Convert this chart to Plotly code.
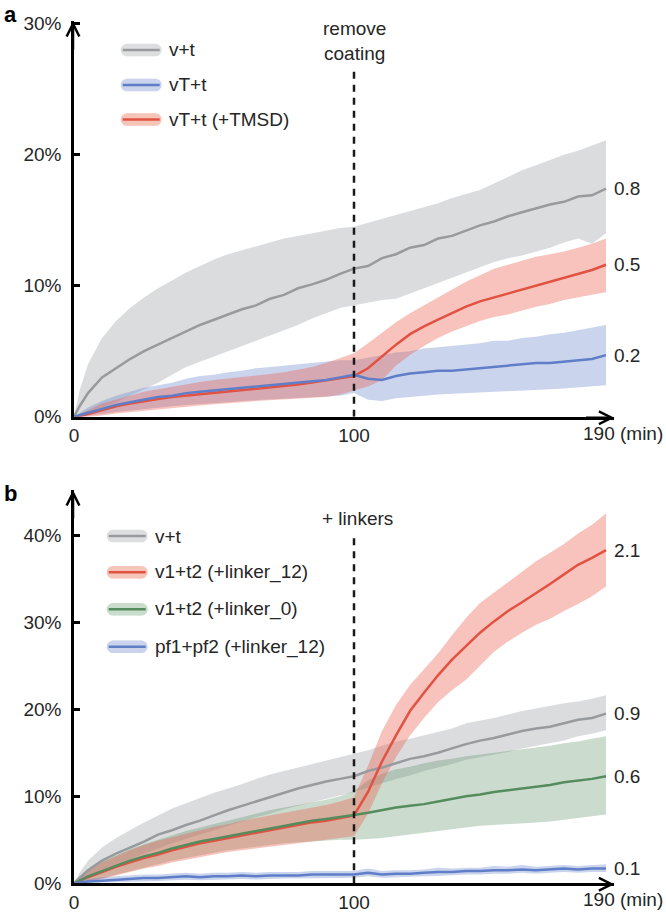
import plotly.graph_objects as go

W, H = 666, 916

# ---------------- data ----------------
T = [0, 2, 5, 10, 15, 20, 25, 30, 35, 40, 45, 50, 55, 60, 65, 70, 75, 80, 85, 90,
     95, 100, 105, 110, 115, 120, 125, 130, 135, 140, 145, 150, 155, 160, 165, 170,
     175, 180, 185, 190]

# panel a
a_gray_mean = [0, 0.8, 1.8, 3.0, 3.7, 4.4, 5.0, 5.5, 6.0, 6.5, 7.0, 7.4, 7.8, 8.2, 8.5, 9.0, 9.3, 9.8, 10.1, 10.45,
               10.9, 11.3, 11.5, 12.1, 12.4, 12.9, 13.1, 13.6, 13.8, 14.2, 14.6, 14.9, 15.3, 15.6, 15.9, 16.2, 16.4, 16.8, 16.9, 17.4]
a_gray_hi = [0, 2.0, 4.0, 6.0, 7.3, 8.3, 9.1, 9.8, 10.4, 11.0, 11.5, 12.0, 12.4, 12.7, 13.0, 13.3, 13.6, 13.8, 14.0, 14.2,
             14.4, 14.5, 14.8, 15.1, 15.4, 15.7, 16.0, 16.3, 16.7, 17.0, 17.3, 17.8, 18.3, 18.8, 19.2, 19.6, 20.0, 20.3, 20.7, 21.1]
a_gray_lo = [0, 0.1, 0.3, 0.7, 1.1, 1.6, 2.1, 2.6, 3.2, 3.8, 4.2, 4.6, 5.0, 5.4, 5.8, 6.2, 6.6, 7.0, 7.5, 7.9,
             8.3, 8.5, 8.7, 8.9, 9.0, 9.4, 9.8, 10.2, 10.6, 11.0, 11.4, 11.8, 12.1, 12.3, 12.6, 12.9, 13.3, 13.6, 13.2, 14.0]

a_blue_mean = [0, 0.1, 0.3, 0.6, 0.9, 1.1, 1.3, 1.5, 1.6, 1.8, 1.9, 2.0, 2.1, 2.2, 2.3, 2.4, 2.5, 2.6, 2.7, 2.8,
               3.0, 3.2, 2.9, 2.8, 3.1, 3.3, 3.4, 3.5, 3.5, 3.6, 3.7, 3.8, 3.9, 4.0, 4.1, 4.1, 4.2, 4.3, 4.4, 4.7]
a_blue_hi = [0, 0.3, 0.7, 1.2, 1.6, 1.9, 2.2, 2.4, 2.6, 2.9, 3.1, 3.2, 3.4, 3.5, 3.7, 3.8, 3.9, 4.0, 4.1, 4.2,
             4.3, 4.3, 4.5, 4.7, 4.9, 5.0, 5.2, 5.3, 5.4, 5.5, 5.6, 5.8, 5.8, 6.0, 6.1, 6.3, 6.4, 6.6, 6.8, 7.0]
a_blue_lo = [0, 0, 0.05, 0.2, 0.35, 0.5, 0.6, 0.7, 0.8, 0.9, 1.0, 1.05, 1.1, 1.2, 1.3, 1.35, 1.4, 1.45, 1.5, 1.55,
             1.6, 1.8, 1.3, 1.2, 1.4, 1.5, 1.6, 1.7, 1.75, 1.8, 1.9, 1.9, 2.0, 2.0, 2.05, 2.1, 2.15, 2.2, 2.3, 2.4]

a_red_mean = [0, 0.05, 0.2, 0.5, 0.8, 1.0, 1.2, 1.35, 1.5, 1.6, 1.75, 1.85, 1.95, 2.05, 2.15, 2.25, 2.35, 2.45, 2.6, 2.75,
              2.9, 3.1, 3.7, 4.6, 5.5, 6.3, 6.9, 7.4, 7.9, 8.4, 8.8, 9.1, 9.4, 9.7, 10.0, 10.3, 10.6, 10.9, 11.2, 11.6]
a_red_hi = [0, 0.2, 0.5, 1.0, 1.3, 1.6, 1.9, 2.1, 2.3, 2.5, 2.65, 2.8, 2.9, 3.0, 3.1, 3.25, 3.4, 3.6, 3.8, 4.1,
            4.5, 4.85, 5.6, 6.4, 7.2, 7.9, 8.5, 9.1, 9.7, 10.3, 10.8, 11.3, 11.6, 11.9, 12.2, 12.4, 12.6, 12.9, 13.2, 13.6]
a_red_lo = [0, 0, 0, 0.1, 0.25, 0.4, 0.5, 0.6, 0.7, 0.75, 0.85, 0.95, 1.05, 1.1, 1.2, 1.3, 1.35, 1.4, 1.45, 1.5,
            1.7, 2.0, 2.3, 2.8, 3.9, 4.7, 5.4, 6.0, 6.5, 6.9, 7.3, 7.6, 7.8, 8.1, 8.4, 8.6, 8.9, 9.1, 9.3, 9.5]

# panel b
b_gray_mean = [0, 0.6, 1.5, 2.6, 3.4, 4.1, 4.8, 5.6, 6.1, 6.7, 7.2, 7.8, 8.4, 8.9, 9.4, 9.9, 10.4, 10.9, 11.3, 11.7,
               12.0, 12.3, 12.9, 13.3, 13.8, 14.3, 14.6, 15.0, 15.5, 16.0, 16.4, 16.7, 17.1, 17.5, 17.8, 18.0, 18.4, 18.8, 19.0, 19.5]
b_gray_hi = [0, 1.2, 2.6, 4.1, 5.2, 6.1, 7.0, 7.8, 8.6, 9.2, 9.8, 10.4, 10.9, 11.4, 12.0, 12.5, 12.9, 13.3, 13.7, 14.1,
             14.5, 14.9, 15.3, 15.8, 16.3, 16.6, 17.0, 17.4, 17.8, 18.4, 18.7, 19.0, 19.4, 19.8, 20.1, 20.4, 20.7, 20.9, 21.2, 21.6]
b_gray_lo = [0, 0.2, 0.6, 1.4, 2.1, 2.8, 3.4, 4.0, 4.6, 5.1, 5.6, 6.1, 6.6, 7.1, 7.6, 8.0, 8.5, 8.9, 9.3, 9.7,
             10.1, 10.5, 11.0, 11.5, 12.0, 12.4, 12.9, 13.3, 13.7, 14.2, 14.5, 14.8, 15.1, 15.5, 15.8, 16.1, 16.4, 16.9, 17.2, 17.6]

b_red_mean = [0, 0.3, 0.7, 1.3, 1.9, 2.4, 2.9, 3.3, 3.8, 4.2, 4.6, 4.9, 5.2, 5.5, 5.8, 6.1, 6.4, 6.7, 7.0, 7.2,
              7.5, 7.8, 10.5, 14.0, 17.0, 19.8, 21.9, 23.9, 25.7, 27.3, 28.8, 30.1, 31.3, 32.3, 33.3, 34.4, 35.5, 36.6, 37.4, 38.3]
b_red_hi = [0, 0.7, 1.5, 2.4, 3.1, 3.8, 4.4, 4.9, 5.3, 5.7, 6.1, 6.5, 6.8, 7.2, 7.5, 7.8, 8.1, 8.4, 8.7, 9.0,
            9.4, 9.9, 13.5, 17.5, 20.5, 22.8, 24.6, 26.4, 28.5, 30.5, 32.2, 33.4, 34.6, 35.8, 37.0, 38.0, 39.0, 40.2, 41.2, 42.5]
b_red_lo = [0, 0.05, 0.2, 0.5, 0.9, 1.3, 1.7, 2.0, 2.4, 2.7, 3.0, 3.3, 3.6, 3.8, 4.0, 4.2, 4.4, 4.6, 4.8, 5.0,
            5.2, 5.4, 8.0, 11.5, 14.5, 17.0, 19.0, 20.8, 22.2, 23.4, 25.0, 26.6, 27.8, 28.8, 29.7, 30.4, 31.3, 32.1, 33.0, 34.1]

b_green_mean = [0, 0.3, 0.8, 1.4, 2.0, 2.6, 3.1, 3.5, 4.0, 4.4, 4.8, 5.1, 5.4, 5.7, 6.0, 6.3, 6.6, 6.9, 7.2, 7.4,
                7.6, 7.85, 8.1, 8.4, 8.7, 8.9, 9.1, 9.4, 9.7, 10.0, 10.2, 10.5, 10.7, 10.9, 11.1, 11.3, 11.6, 11.8, 12.0, 12.3]
b_green_hi = [0, 0.8, 1.6, 2.5, 3.2, 3.9, 4.5, 5.0, 5.5, 6.0, 6.4, 6.8, 7.2, 7.6, 8.0, 8.4, 8.7, 9.0, 9.3, 9.6,
              10.0, 10.6, 11.8, 12.6, 13.1, 13.4, 13.8, 14.1, 14.3, 14.6, 14.8, 15.0, 15.2, 15.4, 15.6, 15.8, 16.1, 16.3, 16.6, 16.9]
b_green_lo = [0, 0.05, 0.2, 0.6, 1.0, 1.4, 1.8, 2.2, 2.6, 2.9, 3.2, 3.5, 3.8, 4.0, 4.2, 4.4, 4.6, 4.7, 4.8, 4.9,
              5.0, 5.0, 5.1, 5.2, 5.4, 5.6, 5.8, 6.0, 6.2, 6.4, 6.6, 6.7, 6.8, 6.9, 7.0, 7.1, 7.3, 7.5, 7.7, 7.9]

b_blue_mean = [0, 0.1, 0.2, 0.3, 0.4, 0.5, 0.6, 0.6, 0.7, 0.8, 0.7, 0.8, 0.8, 0.9, 0.8, 0.9, 0.9, 0.9, 1.0, 1.0,
               1.0, 1.0, 1.2, 1.0, 1.1, 1.1, 1.2, 1.3, 1.3, 1.4, 1.4, 1.5, 1.5, 1.6, 1.5, 1.6, 1.7, 1.6, 1.7, 1.7]
b_blue_hi = [0, 0.3, 0.5, 0.7, 0.8, 0.9, 1.0, 1.0, 1.1, 1.2, 1.1, 1.2, 1.2, 1.3, 1.2, 1.3, 1.3, 1.3, 1.4, 1.4,
             1.4, 1.4, 1.7, 1.4, 1.5, 1.5, 1.6, 1.8, 1.7, 1.8, 1.8, 2.0, 1.9, 2.1, 1.9, 2.0, 2.1, 2.0, 2.1, 2.2]
b_blue_lo = [0, 0, 0, 0.05, 0.1, 0.15, 0.2, 0.25, 0.3, 0.4, 0.35, 0.4, 0.45, 0.5, 0.45, 0.5, 0.55, 0.55, 0.6, 0.6,
             0.6, 0.65, 0.8, 0.65, 0.7, 0.75, 0.8, 0.85, 0.9, 1.0, 1.0, 1.1, 1.1, 1.2, 1.1, 1.2, 1.3, 1.2, 1.3, 1.3]

a_names = ["v+t", "vT+t", "vT+t (+TMSD)"]
a_end_labels = ["0.8", "0.2", "0.5"]
b_names = ["v+t", "v1+t2 (+linker_12)", "v1+t2 (+linker_0)", "pf1+pf2 (+linker_12)"]
b_end_labels = ["0.9", "2.1", "0.6", "0.1"]

a_yticks = [0, 10, 20, 30]
a_yticktext = ["0%", "10%", "20%", "30%"]
b_yticks = [0, 10, 20, 30, 40]
b_yticktext = ["0%", "10%", "20%", "30%", "40%"]
x_ticks = [0, 100]
x_ticktext = ["0", "100"]
x_last_label = "190 (min)"
a_event = "remove<br>coating"
b_event = "+ linkers"
event_time = 100

# ---------------- style ----------------
FONT = "Liberation Sans, Arial, Helvetica, sans-serif"
TXT = "#262626"
COL = {
    "gray": dict(line="rgb(152,155,158)", band="rgba(150,153,158,0.34)", sw="rgb(221,222,224)"),
    "blue": dict(line="rgb(96,126,200)", band="rgba(90,120,200,0.32)", sw="rgb(203,211,237)"),
    "red": dict(line="rgb(226,82,66)", band="rgba(234,98,78,0.38)", sw="rgb(246,197,185)"),
    "green": dict(line="rgb(84,140,94)", band="rgba(84,140,94,0.30)", sw="rgb(202,220,204)"),
}

XL, XR = 74.0, 614.4
XMAX = 193.0
A_TOP, A_BOT = 21.0, 416.7
B_TOP, B_BOT = 490.0, 883.3
A_YMAX, B_YMAX = 30.2, 45.2


def px(x):
    return x / W


def py(y):
    return 1 - y / H


fig = go.Figure()


def add_band(xa, ya, lo, hi, color):
    fig.add_trace(go.Scatter(x=T + T[::-1], y=hi + lo[::-1], fill="toself", mode="lines",
                             line=dict(width=0), fillcolor=COL[color]["band"],
                             hoverinfo="skip", showlegend=False, xaxis=xa, yaxis=ya))


def add_line(xa, ya, mean, color):
    fig.add_trace(go.Scatter(x=T, y=mean, mode="lines", line=dict(width=2.5, color=COL[color]["line"]),
                             showlegend=False, xaxis=xa, yaxis=ya))


# panel a
add_band("x", "y", a_gray_lo, a_gray_hi, "gray")
add_band("x", "y", a_blue_lo, a_blue_hi, "blue")
add_band("x", "y", a_red_lo, a_red_hi, "red")
add_line("x", "y", a_gray_mean, "gray")
add_line("x", "y", a_red_mean, "red")
add_line("x", "y", a_blue_mean, "blue")

# panel b
add_band("x2", "y2", b_gray_lo, b_gray_hi, "gray")
add_band("x2", "y2", b_green_lo, b_green_hi, "green")
add_band("x2", "y2", b_red_lo, b_red_hi, "red")
add_band("x2", "y2", b_blue_lo, b_blue_hi, "blue")
add_line("x2", "y2", b_gray_mean, "gray")
add_line("x2", "y2", b_red_mean, "red")
add_line("x2", "y2", b_green_mean, "green")
add_line("x2", "y2", b_blue_mean, "blue")

tickfont = dict(family=FONT, size=19, color=TXT)
xcommon = dict(range=[0, XMAX], domain=[px(XL), px(XR)], showline=True, linecolor="black", linewidth=2.5,
               ticks="", tickvals=x_ticks, ticktext=x_ticktext, showgrid=False, zeroline=False,
               tickfont=tickfont, fixedrange=True, automargin=False)
ycommon = dict(showline=True, linecolor="black", linewidth=2.5, ticks="inside", ticklen=6, tickwidth=2.5,
               tickcolor="black", showgrid=False, zeroline=False, tickfont=tickfont, ticklabelstandoff=6,
               automargin=False, fixedrange=True)

annotations = []
shapes = []

# axis arrowheads
for xr, yr, ymax in (("x", "y", A_YMAX), ("x2", "y2", B_YMAX)):
    annotations.append(dict(x=XMAX, y=0, xref=xr, yref=yr, ax=-30, ay=0, showarrow=True, arrowhead=5,
                            arrowwidth=2.5, arrowsize=1.0, arrowcolor="black", text="", yshift=-1))
    annotations.append(dict(x=0, y=ymax, xref=xr, yref=yr, ax=0, ay=30, showarrow=True, arrowhead=5,
                            arrowwidth=2.5, arrowsize=1.0, arrowcolor="black", text="", xshift=-1))
    annotations.append(dict(x=190, y=0, xref=xr, yref=yr, text=x_last_label, showarrow=False,
                            xanchor="left", yanchor="top", xshift=-25, yshift=-4,
                            font=dict(family=FONT, size=19, color=TXT)))

# dashed event lines
shapes.append(dict(type="line", xref="x", yref="y", x0=event_time, x1=event_time, y0=0, y1=26.5,
                   line=dict(color="#1a1a1a", width=2.5, dash="7px,6px")))
shapes.append(dict(type="line", xref="x2", yref="y2", x0=event_time, x1=event_time, y0=0, y1=39.7,
                   line=dict(color="#1a1a1a", width=2.5, dash="7px,6px")))
annotations.append(dict(x=event_time, y=py(41), xref="x", yref="paper", text=a_event, showarrow=False,
                        xanchor="center", yanchor="middle", font=dict(family=FONT, size=19, color=TXT)))
annotations.append(dict(x=event_time, y=py(518), xref="x2", yref="paper", text=b_event, showarrow=False,
                        xanchor="center", yanchor="middle", xshift=3, font=dict(family=FONT, size=19, color=TXT)))

# end labels
for xr, yr, means, labels in (("x", "y", [a_gray_mean, a_blue_mean, a_red_mean], a_end_labels),
                              ("x2", "y2", [b_gray_mean, b_red_mean, b_green_mean, b_blue_mean], b_end_labels)):
    for m, lab in zip(means, labels):
        annotations.append(dict(x=T[-1], y=m[-1], xref=xr, yref=yr, text=lab, showarrow=False,
                                xanchor="left", yanchor="middle", xshift=6,
                                font=dict(family=FONT, size=19, color=TXT)))

# panel letters
annotations.append(dict(x=px(2), y=py(15), xref="paper", yref="paper", text="<b>a</b>", showarrow=False,
                        xanchor="left", yanchor="middle", font=dict(family=FONT, size=22, color="black")))
annotations.append(dict(x=px(2), y=py(493), xref="paper", yref="paper", text="<b>b</b>", showarrow=False,
                        xanchor="left", yanchor="middle", font=dict(family=FONT, size=22, color="black")))


# legends (drawn swatches)
def legend(items, x_left, x_right, text_x, ys):
    r = 6.3
    for (name, color), yc in zip(items, ys):
        shapes.append(dict(type="rect", xref="paper", yref="paper", x0=px(x_left + r), x1=px(x_right - r),
                           y0=py(yc + r), y1=py(yc - r), line=dict(width=0), fillcolor=COL[color]["sw"]))
        for cx in (x_left + r, x_right - r):
            shapes.append(dict(type="circle", xref="paper", yref="paper", x0=px(cx - r), x1=px(cx + r),
                               y0=py(yc + r), y1=py(yc - r), line=dict(width=0), fillcolor=COL[color]["sw"]))
        shapes.append(dict(type="line", xref="paper", yref="paper", x0=px(x_left + 2), x1=px(x_right - 2),
                           y0=py(yc), y1=py(yc), line=dict(width=2.5, color=COL[color]["line"])))
        annotations.append(dict(x=px(text_x), y=py(yc), xref="paper", yref="paper", text=name, showarrow=False,
                                xanchor="left", yanchor="middle", font=dict(family=FONT, size=19, color=TXT)))


legend(list(zip(a_names, ["gray", "blue", "red"])), 120.7, 161.7, 167, [50, 85, 119.5])
legend(list(zip(b_names, ["gray", "red", "green", "blue"])), 106.7, 147.7, 153, [536, 572.3, 609.3, 646.7])

fig.update_layout(
    width=W, height=H, margin=dict(l=0, r=0, t=0, b=0, pad=0, autoexpand=False),
    paper_bgcolor="white", plot_bgcolor="white", showlegend=False,
    font=dict(family=FONT, size=19, color=TXT),
    xaxis=dict(xcommon, anchor="y"),
    yaxis=dict(ycommon, range=[0, A_YMAX], domain=[py(A_BOT), py(A_TOP)], tickvals=a_yticks,
               ticktext=a_yticktext, anchor="x"),
    xaxis2=dict(xcommon, anchor="y2"),
    yaxis2=dict(ycommon, range=[0, B_YMAX], domain=[py(B_BOT), py(B_TOP)], tickvals=b_yticks,
                ticktext=b_yticktext, anchor="x2"),
    annotations=annotations, shapes=shapes,
)

fig.write_html("out.html", config={"displayModeBar": False},
               post_script="document.body.style.margin='0';document.body.style.overflow='hidden';")
